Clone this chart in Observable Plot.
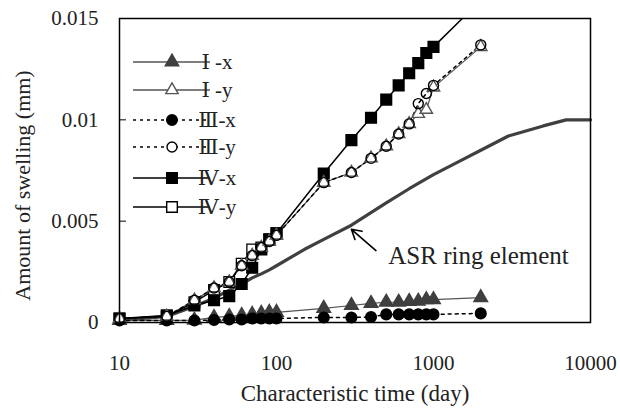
<!DOCTYPE html>
<html><head><meta charset="utf-8">
<script src="https://cdn.jsdelivr.net/npm/d3@7"></script>
<script src="https://cdn.jsdelivr.net/npm/@observablehq/plot@0.6"></script>
<style>
body{margin:0;background:#fff;}
#chart{width:620px;height:419px;}
</style></head><body><div id="chart"></div>
<script>
// Characteristic time (day)
const time = [10,20,30,40,50,60,70,80,90,100,200,300,400,500,600,700,800,900,1000,2000];
// Amount of swelling (mm)
const Ix   = [0.0001,0.0001,0.00012,0.00025,0.0003,0.00035,0.0004,0.00045,0.0005,0.0005,0.0007,0.00084,0.00094,0.001,0.001,0.00104,0.00105,0.00113,0.00113,0.00123];
const Iy   = [0.0002,0.0003,0.0011,0.0017,0.002,0.0028,0.0033,0.0037,0.004,0.0043,0.0069,0.0074,0.0081,0.0087,0.0093,0.0098,0.0103,0.0105,0.0116,0.0136];
const IIIx = [0.0001,0.0001,0.0001,0.00012,0.00015,0.00015,0.0002,0.0002,0.0002,0.0002,0.00025,0.00025,0.00027,0.0004,0.0004,0.0004,0.0004,0.0004,0.0004,0.00045];
const IIIy = [0.0002,0.0003,0.0011,0.0017,0.002,0.0028,0.0033,0.0037,0.004,0.0043,0.0069,0.0074,0.0081,0.0087,0.0093,0.0098,0.0108,0.0113,0.0117,0.0137];
const IVx  = [0.0002,0.00035,0.00084,0.0011,0.0013,0.0019,0.0027,0.0036,0.0041,0.0044,0.00735,0.009,0.0101,0.011,0.0117,0.0123,0.0128,0.0133,0.0136,0.0159];
const IVyTime = [10,20,30,40,50,60,70,80,90,100];
const IVy  = [0.0002,0.0003,0.001,0.0016,0.002,0.0029,0.0036,0.0037,0.0041,0.0044];
// ASR ring element
const asrTime  = [10,20,30,40,50,60,70,80,90,100,150,200,300,500,700,1000,1500,2000,3000,5000,7000,10000];
const asrValue = [0.0001,0.0003,0.0008,0.0012,0.0016,0.0019,0.0022,0.0024,0.0026,0.0028,0.0036,0.0041,0.0048,0.0059,0.0066,0.0073,0.008,0.0085,0.0092,0.0097,0.01,0.01];
// axes
const xTicks = [10,100,1000,10000];
const yTicks = [0,0.005,0.01,0.015];
const seriesNames = ["Ⅰ -x","Ⅰ -y","Ⅲ-x","Ⅲ-y","Ⅳ-x","Ⅳ-y"];
// annotation (data space)
const annotation = [{t1:430, v1:0.00355, t2:300, v2:0.0046, tt:515, tv:0.0033, label:"ASR ring element"}];

const rows = (ts, vs) => ts.map((t,i)=>({t, v: vs[i]}));
const dIx = rows(time, Ix), dIy = rows(time, Iy), dIIIx = rows(time, IIIx), dIIIy = rows(time, IIIy);
const dIVx = rows(time, IVx), dIVy = rows(IVyTime, IVy), dAsr = rows(asrTime, asrValue);
const dIVxPts = dIVx.filter(d => d.t <= 1000);

const FONT = "'Liberation Serif', 'DejaVu Serif', serif";
const GRAY = "#555";
const TRI = "#3f3f3f";
const INK = "#222";

const plot = Plot.plot({
  width: 620, height: 419,
  marginLeft: 119, marginRight: 30, marginTop: 18, marginBottom: 97,
  style: {fontFamily: FONT, fontSize: "21px", color: INK, background: "white"},
  x: {type: "log", domain: [10, 10000], ticks: xTicks, tickFormat: d => String(d)},
  y: {domain: [0, 0.015], ticks: yTicks, tickFormat: d => String(d)},
  marks: [
    Plot.axisX({ticks: xTicks, tickSize: 0, tickPadding: 33, label: null, tickFormat: d => String(d)}),
    Plot.axisY({ticks: yTicks, tickSize: 0, tickPadding: 21, label: null, tickFormat: d => String(d)}),
    Plot.gridY(yTicks, {stroke: "black", strokeOpacity: 1, strokeWidth: 1, insetRight: 471 - 7}),
    Plot.line(dAsr, {x: "t", y: "v", stroke: "#404040", strokeWidth: 3.2}),
    Plot.line(dIx, {x: "t", y: "v", stroke: GRAY, strokeWidth: 1.2}),
    Plot.line(dIy, {x: "t", y: "v", stroke: GRAY, strokeWidth: 1.2}),
    Plot.line(dIIIx, {x: "t", y: "v", stroke: "black", strokeWidth: 1.5, strokeDasharray: "3,4"}),
    Plot.line(dIIIy, {x: "t", y: "v", stroke: "black", strokeWidth: 1.5, strokeDasharray: "3,4"}),
    Plot.line(dIVy, {x: "t", y: "v", stroke: "black", strokeWidth: 1.5}),
    Plot.line(dIVx, {x: "t", y: "v", stroke: "black", strokeWidth: 1.5, clip: true}),
    Plot.dot(dIVy, {x: "t", y: "v", symbol: "square", r: 6, fill: "white", stroke: "black", strokeWidth: 1.3}),
    Plot.dot(dIVxPts, {x: "t", y: "v", symbol: "square", r: 6, fill: "black", stroke: "black"}),
    Plot.dot(dIx, {x: "t", y: "v", symbol: "triangle", r: 5, fill: TRI, stroke: TRI}),
    Plot.dot(dIIIx, {x: "t", y: "v", symbol: "circle", r: 5.3, fill: "black", stroke: "black"}),
    Plot.dot(dIy, {x: "t", y: "v", symbol: "triangle", r: 4.6, fill: "white", stroke: GRAY, strokeWidth: 1.4}),
    Plot.dot(dIIIy, {x: "t", y: "v", symbol: "circle", r: 5, fill: "none", stroke: "black", strokeWidth: 1.4}),
    Plot.frame({stroke: "black", strokeWidth: 1.5}),
    Plot.arrow(annotation, {x1: "t1", y1: "v1", x2: "t2", y2: "v2", stroke: "black", strokeWidth: 1.6, headLength: 11}),
    Plot.text(annotation, {x: "tt", y: "tv", text: "label", textAnchor: "start", fill: INK, fontSize: 25}),
    Plot.text(["Characteristic time (day)"], {frameAnchor: "bottom", textAnchor: "middle", dy: 78, fill: INK, fontSize: 23}),
    Plot.text(["Amount of swelling (mm)"], {frameAnchor: "left", textAnchor: "middle", rotate: -90, dx: -97, dy: 15, fill: INK, fontSize: 22})
  ]
});
document.getElementById("chart").appendChild(plot);

// Legend overlay inside the plot area (top-left)
const svg = d3.select(plot);
const legendY = [62, 90, 120, 147, 178, 207];
const styles = [
  {stroke: GRAY, dash: null, sym: d3.symbolTriangle, r: 5, fill: TRI, mstroke: TRI},
  {stroke: GRAY, dash: null, sym: d3.symbolTriangle, r: 4.6, fill: "white", mstroke: GRAY},
  {stroke: "black", dash: "3,4", sym: d3.symbolCircle, r: 5.3, fill: "black", mstroke: "black"},
  {stroke: "black", dash: "3,4", sym: d3.symbolCircle, r: 5, fill: "white", mstroke: "black"},
  {stroke: "black", dash: null, sym: d3.symbolSquare, r: 6, fill: "black", mstroke: "black"},
  {stroke: "black", dash: null, sym: d3.symbolSquare, r: 6, fill: "white", mstroke: "black"}
];
const lg = svg.append("g").attr("font-family", FONT).attr("font-size", 21).attr("fill", INK);
seriesNames.forEach((name, i) => {
  const y = legendY[i], s = styles[i];
  lg.append("line").attr("x1", 133).attr("x2", 210).attr("y1", y).attr("y2", y)
    .attr("stroke", s.stroke).attr("stroke-width", 1.5).attr("stroke-dasharray", s.dash);
  lg.append("path").attr("transform", `translate(172,${y})`)
    .attr("d", d3.symbol(s.sym, s.r * s.r * Math.PI)())
    .attr("fill", s.fill).attr("stroke", s.mstroke).attr("stroke-width", 1.4);
  lg.append("text").attr("x", 217).attr("y", y).attr("dy", "0.35em").text(name);
});
</script></body></html>
